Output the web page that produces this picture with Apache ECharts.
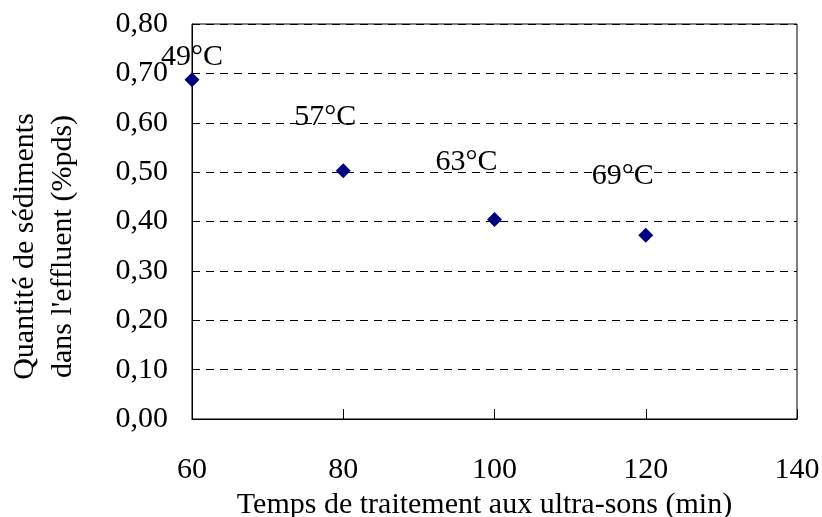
<!DOCTYPE html>
<html>
<head>
<meta charset="utf-8">
<script src="https://cdn.jsdelivr.net/npm/echarts@6/dist/echarts.min.js"></script>
<style>
  html, body { margin: 0; padding: 0; background: #fff; }
  #chart { width: 822px; height: 517px; }
</style>
</head>
<body>
<div id="chart"></div>
<script>
// temps de traitement (min) / sediments (%pds) / temperature
const temps = [60, 80, 100, 120];
const sediments = [0.687, 0.503, 0.404, 0.372];
const temperatures = ['49°C', '57°C', '63°C', '69°C'];

var chartDom = document.getElementById('chart');
var myChart = echarts.init(chartDom);
var option;

const serif = 'Liberation Serif';
// label offsets, px, relative to each point
const labelOffsets = [[0, -23], [-18, -54], [-28, -57], [-23, -59]];

const points = temps.map(function (t, i) {
  return {
    value: [t, sediments[i]],
    label: { offset: labelOffsets[i], formatter: temperatures[i] }
  };
});

option = {
  animation: false,
  grid: {
    left: 192,
    right: 25,
    top: 24,
    bottom: 98,
    outerBoundsMode: 'none',
    containLabel: false,
    show: true,
    borderColor: '#000',
    borderWidth: 1
  },
  xAxis: {
    type: 'value',
    min: 60,
    max: 140,
    interval: 20,
    name: 'Temps de traitement aux ultra-sons (min)',
    nameLocation: 'middle',
    nameGap: 65,
    nameTextStyle: { fontFamily: serif, fontSize: 30, color: '#000', padding: [0, 20, 0, 0] },
    axisLine: { show: true, onZero: false, lineStyle: { color: '#000', width: 1 } },
    axisTick: { show: true, inside: true, length: 10, lineStyle: { color: '#000' } },
    axisLabel: { fontFamily: serif, fontSize: 30, color: '#000', margin: 36 },
    splitLine: { show: false }
  },
  yAxis: {
    type: 'value',
    min: 0,
    max: 0.8,
    interval: 0.1,
    name: "Quantité de sédiments\ndans l'effluent (%pds)",
    nameLocation: 'middle',
    nameGap: 110,
    nameTextStyle: { fontFamily: serif, fontSize: 30, color: '#000', lineHeight: 38, padding: [0, 50, 0, 0] },
    axisLine: { show: true, onZero: false, lineStyle: { color: '#000', width: 1 } },
    axisTick: { show: false },
    axisLabel: {
      fontFamily: serif, fontSize: 30, color: '#000', margin: 24,
      formatter: function (v) { return v.toFixed(2).replace('.', ','); }
    },
    splitLine: { show: true, lineStyle: { color: '#000', type: [8, 6], width: 1 } }
  },
  series: [
    {
      type: 'scatter',
      symbol: 'diamond',
      symbolSize: 15,
      itemStyle: { color: '#000080', opacity: 1 },
      label: {
        show: true,
        position: 'inside',
        fontFamily: serif,
        fontSize: 30,
        color: '#000'
      },
      data: points
    }
  ]
};

option && myChart.setOption(option);
</script>
</body>
</html>
